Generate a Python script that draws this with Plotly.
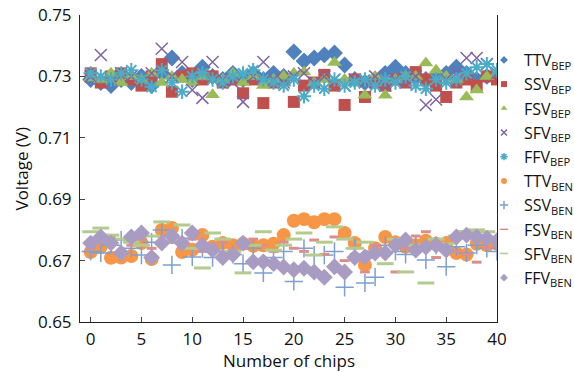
import plotly.graph_objects as go

chips = list(range(41))

TTV_BEP = [0.729,0.728,0.727,0.729,0.728,0.730,0.727,0.731,0.736,0.731,0.729,0.733,0.730,0.729,0.731,0.729,0.731,0.729,0.731,0.730,
           0.738,0.735,0.736,0.737,0.7376,0.7337,0.729,0.728,0.729,0.731,0.733,0.731,0.730,0.729,0.730,0.731,0.733,0.731,0.729,0.730,0.730]
SSV_BEP = [0.731,0.728,0.730,0.731,0.729,0.727,0.730,0.734,0.725,0.730,0.731,0.729,0.730,0.728,0.729,0.7245,0.729,0.7213,0.728,0.729,
           0.7217,0.727,0.728,0.7305,0.727,0.7207,0.729,0.7233,0.728,0.727,0.729,0.728,0.7314,0.729,0.727,0.7233,0.728,0.729,0.727,0.730,0.729]
FSV_BEP = [0.7295,0.729,0.731,0.728,0.730,0.729,0.731,0.728,0.730,0.729,0.728,0.730,0.724,0.729,0.731,0.728,0.730,0.727,0.729,0.730,
           0.731,0.7314,0.728,0.729,0.7345,0.729,0.728,0.7239,0.730,0.7239,0.729,0.730,0.730,0.7344,0.732,0.730,0.729,0.7233,0.7256,0.730,0.731]
SFV_BEP = [0.730,0.737,0.729,0.731,0.730,0.729,0.731,0.739,0.730,0.7347,0.7256,0.723,0.7347,0.729,0.728,0.7217,0.730,0.7347,0.729,0.728,
           0.730,0.731,0.728,0.730,0.729,0.727,0.729,0.728,0.730,0.727,0.729,0.728,0.730,0.7207,0.7225,0.729,0.731,0.736,0.736,0.734,0.731]
FFV_BEP = [0.731,0.730,0.729,0.731,0.732,0.729,0.7266,0.732,0.728,0.725,0.730,0.731,0.729,0.728,0.730,0.731,0.732,0.729,0.728,0.727,
           0.729,0.7235,0.727,0.726,0.729,0.727,0.728,0.729,0.727,0.729,0.728,0.730,0.727,0.726,0.729,0.728,0.729,0.731,0.733,0.734,0.732]
TTV_BEN = [0.6728,0.6745,0.6709,0.671,0.6715,0.6757,0.6705,0.680,0.6806,0.6728,0.6735,0.6783,0.6745,0.6757,0.675,0.6755,0.6748,0.675,0.6755,0.6783,
           0.683,0.6835,0.6825,0.6835,0.6835,0.679,0.6757,0.6686,0.674,0.6777,0.676,0.6745,0.675,0.6765,0.6755,0.6757,0.6725,0.672,0.6755,0.675,0.6755]
SSV_BEN = [0.673,0.6725,0.675,0.6767,0.674,0.6718,0.676,0.680,0.6686,0.6773,0.6712,0.674,0.671,0.673,0.672,0.669,0.674,0.666,0.671,0.673,
           0.6632,0.674,0.6718,0.6718,0.673,0.6613,0.674,0.6627,0.6646,0.675,0.673,0.672,0.675,0.6702,0.675,0.668,0.6745,0.6725,0.675,0.674,0.673]
FSV_BEN = [0.674,0.676,0.6777,0.673,0.675,0.677,0.674,0.678,0.676,0.674,0.677,0.673,0.675,0.676,0.672,0.674,0.677,0.675,0.673,0.676,
           0.674,0.673,0.6767,0.672,0.6777,0.670,0.672,0.6663,0.675,0.673,0.6663,0.674,0.678,0.6794,0.671,0.675,0.673,0.672,0.6695,0.674,0.675]
SFV_BEN = [0.6794,0.6806,0.6783,0.677,0.676,0.675,0.678,0.6826,0.676,0.6816,0.674,0.6676,0.679,0.677,0.673,0.666,0.675,0.6794,0.6734,0.675,
           0.677,0.679,0.6718,0.676,0.681,0.677,0.674,0.676,0.673,0.669,0.677,0.6663,0.675,0.6627,0.677,0.6755,0.678,0.6795,0.680,0.6794,0.677]
FFV_BEN = [0.6757,0.6777,0.6757,0.6725,0.6777,0.679,0.671,0.6757,0.678,0.6757,0.679,0.675,0.6734,0.671,0.672,0.6757,0.6696,0.6696,0.669,0.6679,
           0.667,0.6675,0.6663,0.6646,0.668,0.6663,0.671,0.6712,0.6725,0.6725,0.675,0.6767,0.6734,0.6744,0.675,0.6734,0.6777,0.6783,0.6777,0.6773,0.6765]

series = [
    ("TTV<sub>BEP</sub>", TTV_BEP, "diamond", "#4F81BD", 13, 0),
    ("SSV<sub>BEP</sub>", SSV_BEP, "square", "#C0504D", 12, 0),
    ("FSV<sub>BEP</sub>", FSV_BEP, "triangle-up", "#9BBB59", 13, 0),
    ("SFV<sub>BEP</sub>", SFV_BEP, "x-thin", "#8064A2", 12, 1.5),
    ("FFV<sub>BEP</sub>", FFV_BEP, "asterisk", "#4BACC6", 12, 2),
    ("TTV<sub>BEN</sub>", TTV_BEN, "circle", "#F79646", 14, 0),
    ("SSV<sub>BEN</sub>", SSV_BEN, "cross-thin", "#7E9FCF", 13, 1.5),
    ("FSV<sub>BEN</sub>", FSV_BEN, "line-ew", "#DD8E8C", 7, 3),
    ("SFV<sub>BEN</sub>", SFV_BEN, "line-ew", "#B3CB8E", 12, 3),
    ("FFV<sub>BEN</sub>", FFV_BEN, "diamond", "#A99CC3", 13, 0),
]

fig = go.Figure()
for name, vals, sym, col, size, lw in series:
    line = dict(color=col, width=lw) if lw else dict(width=0)
    fig.add_trace(go.Scatter(x=chips, y=vals, mode="markers", name=name, showlegend=False,
                             marker=dict(symbol=sym, color=col, size=size, line=line)))
for k, (name, vals, sym, col, size, lw) in enumerate(series):
    line = dict(color=col, width=min(lw, 1.5)) if lw else dict(width=0)
    fig.add_trace(go.Scatter(x=[None], y=[None], mode="markers", name=name, legendgroup=f"g{k}",
                             marker=dict(symbol=sym, color=col, size=6, line=line)))

font = "Open Sans"
fig.update_layout(
    width=574, height=372,
    margin=dict(l=80, r=77, t=15, b=50, autoexpand=False),
    paper_bgcolor="white", plot_bgcolor="white",
    font=dict(family=font, size=16, color="#111"),
    legend=dict(xref="container", yref="container", x=484/574, y=1 - 43/372,
                xanchor="left", yanchor="top", maxheight=340,
                font=dict(size=16), tracegroupgap=0.4, itemwidth=30,
                bgcolor="rgba(0,0,0,0)"),
    showlegend=True,
    annotations=[
        dict(text="Number of chips", xref="paper", yref="paper", x=0.5, y=-(360 - 322) / 307,
             xanchor="center", yanchor="middle", showarrow=False, font=dict(size=17)),
        dict(text="Voltage (V)", xref="paper", yref="paper", x=(21 - 80) / 417, y=0.5,
             xanchor="center", yanchor="middle", textangle=-90, showarrow=False, font=dict(size=17)),
    ],
)
fig.update_xaxes(range=[-1.05, 40], tickvals=list(range(0, 41, 5)), ticks="inside", ticklen=5,
                 showline=True, linecolor="#222", linewidth=1, showgrid=False, zeroline=False,
                 automargin=False, tickfont=dict(size=17), ticklabelstandoff=2)
fig.update_yaxes(range=[0.65, 0.75], tickvals=[0.65, 0.67, 0.69, 0.71, 0.73, 0.75], tickformat=".2f",
                 ticks="inside", ticklen=5, showline=True, mirror=True, linecolor="#222", linewidth=1,
                 showgrid=False, zeroline=False, automargin=False, tickfont=dict(size=17),
                 ticklabelstandoff=4)

fig.write_html("out.html", config={"displayModeBar": False},
               post_script="document.body.style.margin='0';")
